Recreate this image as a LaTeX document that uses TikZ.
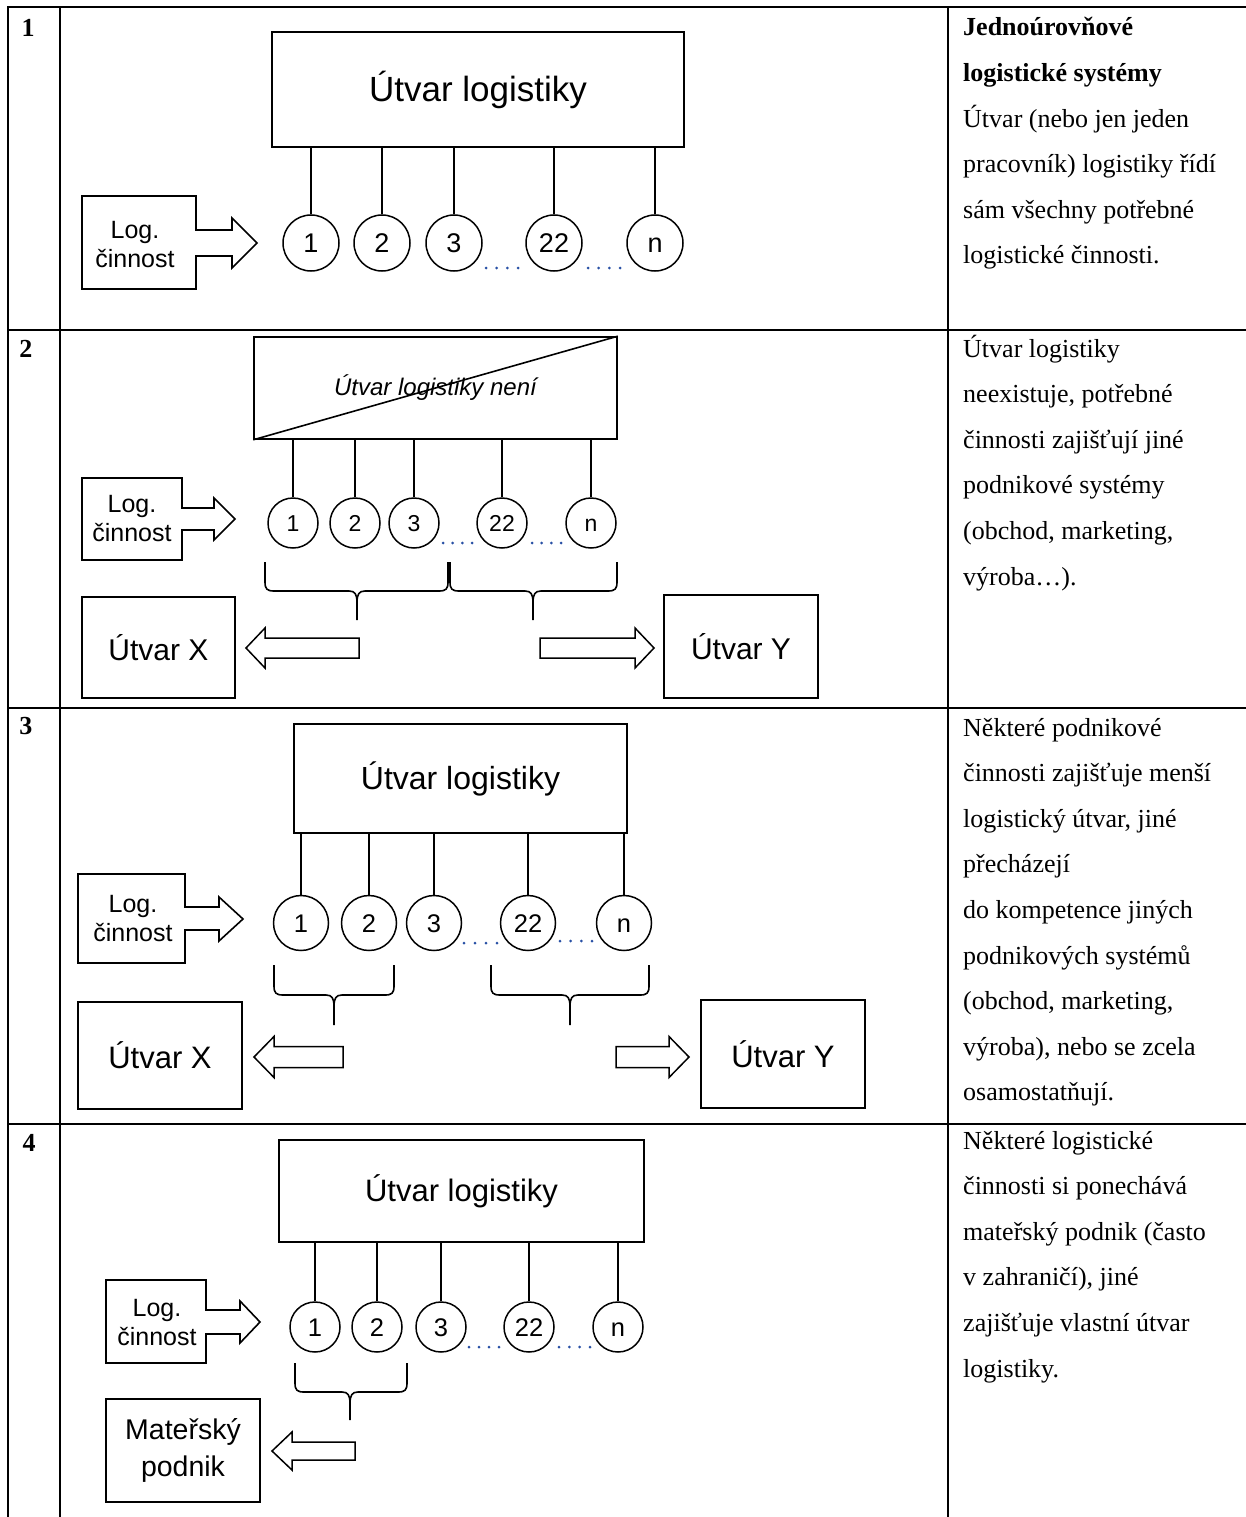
\documentclass[tikz,border=0pt]{standalone}
\usepackage{fontspec}
\setmainfont{Liberation Serif}
\newfontfamily\arial{Liberation Sans}
\definecolor{dotblue}{RGB}{40,80,165}
% sans text at a given size / line distance
\newcommand\dfont[2]{\arial\fontsize{#1}{#2}\selectfont}
% four small dots between two x positions
\newcommand\fourdots[3]{\foreach \k in {0,...,3} \fill[dotblue] ({#1+\k*(#2-#1)/3},#3) circle (1.5);}
% block arrow: tail x, head base x, tip x, centre y, half shaft, half head
\newcommand\blockarrow[6]{\draw[harrow] (#1,#4-#5) -- (#2,#4-#5) -- (#2,#4-#6) -- (#3,#4) -- (#2,#4+#6) -- (#2,#4+#5) -- (#1,#4+#5) -- cycle;}
% downward curly brace: left x, right x, middle x, top y, bar y, tip y
\newcommand\bracedown[6]{%
  \draw[ln] (#1,#4) -- (#1,#5-9) .. controls (#1,#5-2) and (#1+2,#5) .. (#1+9,#5) -- (#3-8,#5) .. controls (#3-2,#5) and (#3,#5+3) .. (#3,#5+12) -- (#3,#6);
  \draw[ln] (#2,#4) -- (#2,#5-9) .. controls (#2,#5-2) and (#2-2,#5) .. (#2-9,#5) -- (#3+8,#5) .. controls (#3+2,#5) and (#3,#5+3) .. (#3,#5+12);}
% text of the description column
\newcommand\desc[3]{\node[anchor=base west, inner sep=0] (#1) at (963,#2) {\parbox[t]{283pt}{\fontsize{26}{45.6}\selectfont\raggedright #3}};}
\begin{document}
\begin{tikzpicture}[x=1pt,y=-1pt,
  tbl/.style={line width=2.2pt},
  ln/.style={line width=1.6pt, line cap=butt},
  harrow/.style={line width=1.5pt, line join=miter, fill=white},
  ubox/.style={draw, line width=1.6pt, rectangle, inner sep=0pt},
  act/.style={draw, line width=1.5pt, circle, inner sep=0pt, text depth=0pt, text height=18.3pt, font=\dfont{25.5}{30}},
  lbl/.style={inner sep=0pt, align=center, font=\dfont{25}{29}},
  num/.style={anchor=base, inner sep=0pt, font=\bfseries\fontsize{26}{30}\selectfont}]
\useasboundingbox (0,0) rectangle (1246,1517);
\fill[white] (0,0) rectangle (1246,1517);

% ---- table grid ----
\draw[tbl] (8,1517) -- (8,7) -- (1246,7);
\draw[tbl] (60,7) -- (60,1517);
\draw[tbl] (948,7) -- (948,1517);
\foreach \y in {330,708,1124} \draw[tbl] (8,\y) -- (1246,\y);

% ---- row numbers ----
\node[num] (n1) at (28,37) {1};
\node[num] (n2) at (26,357) {2};
\node[num] (n3) at (26,734) {3};
\node[num] (n4) at (29,1151) {4};

% ---- descriptions ----
\desc{t1}{36}{\textbf{Jednoúrovňové}\\\textbf{logistické systémy}\\Útvar (nebo jen jeden\\pracovník) logistiky řídí\\sám všechny potřebné\\logistické činnosti.}
\desc{t2}{357}{Útvar logistiky\\neexistuje, potřebné\\činnosti zajišťují jiné\\podnikové systémy\\(obchod, marketing,\\výroba…).}
\desc{t3}{736}{Některé podnikové\\činnosti zajišťuje menší\\logistický útvar, jiné\\přecházejí\\do kompetence jiných\\podnikových systémů\\(obchod, marketing,\\výroba), nebo se zcela\\osamostatňují.}
\desc{t4}{1149}{Některé logistické\\činnosti si ponechává\\mateřský podnik (často\\v zahraničí), jiné\\zajišťuje vlastní útvar\\logistiky.}

% ================= row 1 =================
\node[ubox, minimum width=412, minimum height=115, font=\dfont{35}{40}] (U1) at (478,89.5) {Útvar logistiky};
\foreach \i/\x/\t in {1/311/1,2/382/2,3/454/3,4/554/22,5/655/n} {
  \node[act, minimum size=56, text height=19.3pt, font=\dfont{27}{30}] (a\i) at (\x,243) {\t};
  \draw[ln] (a\i.north) -- (a\i.north |- U1.south);
}
\fourdots{486}{518}{268}
\fourdots{588}{620}{268}
\draw[ln, line join=miter] (82,196) -- (196,196) -- (196,230) -- (232,230) -- (232,218) -- (257,243) -- (232,268) -- (232,256) -- (196,256) -- (196,289) -- (82,289) -- cycle;
\node[lbl] (L1) at (135,245) {Log.\\činnost};

% ================= row 2 =================
\node[ubox, minimum width=363, minimum height=102, font=\dfont{24}{28}\itshape] (U2) at (435.5,388) {Útvar logistiky není};
\draw[ln] (U2.south west) -- (U2.north east);
\foreach \i/\x/\t in {1/293/1,2/355/2,3/414/3,4/502/22,5/591/n} {
  \node[act, minimum size=50, text height=16.5pt, font=\dfont{23}{26}] (b\i) at (\x,523) {\t};
  \draw[ln] (b\i.north) -- (b\i.north |- U2.south);
}
\fourdots{443}{472}{543}
\fourdots{532}{561}{543}
\draw[ln, line join=miter] (82,478) -- (182,478) -- (182,508) -- (214,508) -- (214,498) -- (235,519) -- (214,540) -- (214,530) -- (182,530) -- (182,560) -- (82,560) -- cycle;
\node[lbl] (L2) at (132,519) {Log.\\činnost};
\bracedown{265}{448}{357}{562}{591}{620}
\bracedown{450}{617}{533}{562}{591}{620}
\node[ubox, minimum width=153, minimum height=101, font=\dfont{30}{36}] (X2) at (158.5,647.5) {Útvar X};
\node[ubox, minimum width=154, minimum height=103, font=\dfont{30}{36}] (Y2) at (741,646.5) {Útvar Y};
\blockarrow{359}{265}{246}{648}{10}{20}
\blockarrow{540}{635}{654}{648}{10}{20}

% ================= row 3 =================
\node[ubox, minimum width=333, minimum height=109, font=\dfont{32}{38}] (U3) at (460.5,778.5) {Útvar logistiky};
\foreach \i/\x/\t in {1/301/1,2/369/2,3/434/3,4/528/22,5/624/n} {
  \node[act, minimum size=55] (c\i) at (\x,923) {\t};
  \draw[ln] (c\i.north) -- (c\i.north |- U3.south);
}
\fourdots{464}{497}{943}
\fourdots{560}{592}{941}
\draw[ln, line join=miter] (78,874) -- (185,874) -- (185,907) -- (219,907) -- (219,897) -- (243,919) -- (219,941) -- (219,930) -- (185,930) -- (185,963) -- (78,963) -- cycle;
\node[lbl] (L3) at (133,919) {Log.\\činnost};
\bracedown{274}{394}{334}{965}{995}{1025}
\bracedown{491}{649}{570}{965}{995}{1025}
\node[ubox, minimum width=164, minimum height=107, font=\dfont{31}{36}] (X3) at (160,1055.5) {Útvar X};
\node[ubox, minimum width=164, minimum height=108, font=\dfont{31}{36}] (Y3) at (783,1054) {Útvar Y};
\blockarrow{343}{274}{254}{1057}{10.5}{20.5}
\blockarrow{616}{669}{689}{1057}{10.5}{20.5}

% ================= row 4 =================
\node[ubox, minimum width=365, minimum height=102, font=\dfont{31}{36}] (U4) at (461.5,1191) {Útvar logistiky};
\foreach \i/\x/\t in {1/315/1,2/377/2,3/441/3,4/529/22,5/618/n} {
  \node[act, minimum size=50] (d\i) at (\x,1327) {\t};
  \draw[ln] (d\i.north) -- (d\i.north |- U4.south);
}
\fourdots{469}{499}{1347}
\fourdots{559}{590}{1347}
\draw[ln, line join=miter] (106,1280) -- (206,1280) -- (206,1310) -- (240,1310) -- (240,1301) -- (260,1322) -- (240,1343) -- (240,1334) -- (206,1334) -- (206,1363) -- (106,1363) -- cycle;
\node[lbl] (L4) at (157,1323) {Log.\\činnost};
\bracedown{295}{407}{350}{1363}{1392}{1420}
\node[ubox, minimum width=154, minimum height=103, align=center, font=\dfont{28.5}{37}] (M4) at (183,1450.5) {Mateřský\\podnik};
\blockarrow{355}{292}{272}{1451}{9}{19}
\end{tikzpicture}
\end{document}
